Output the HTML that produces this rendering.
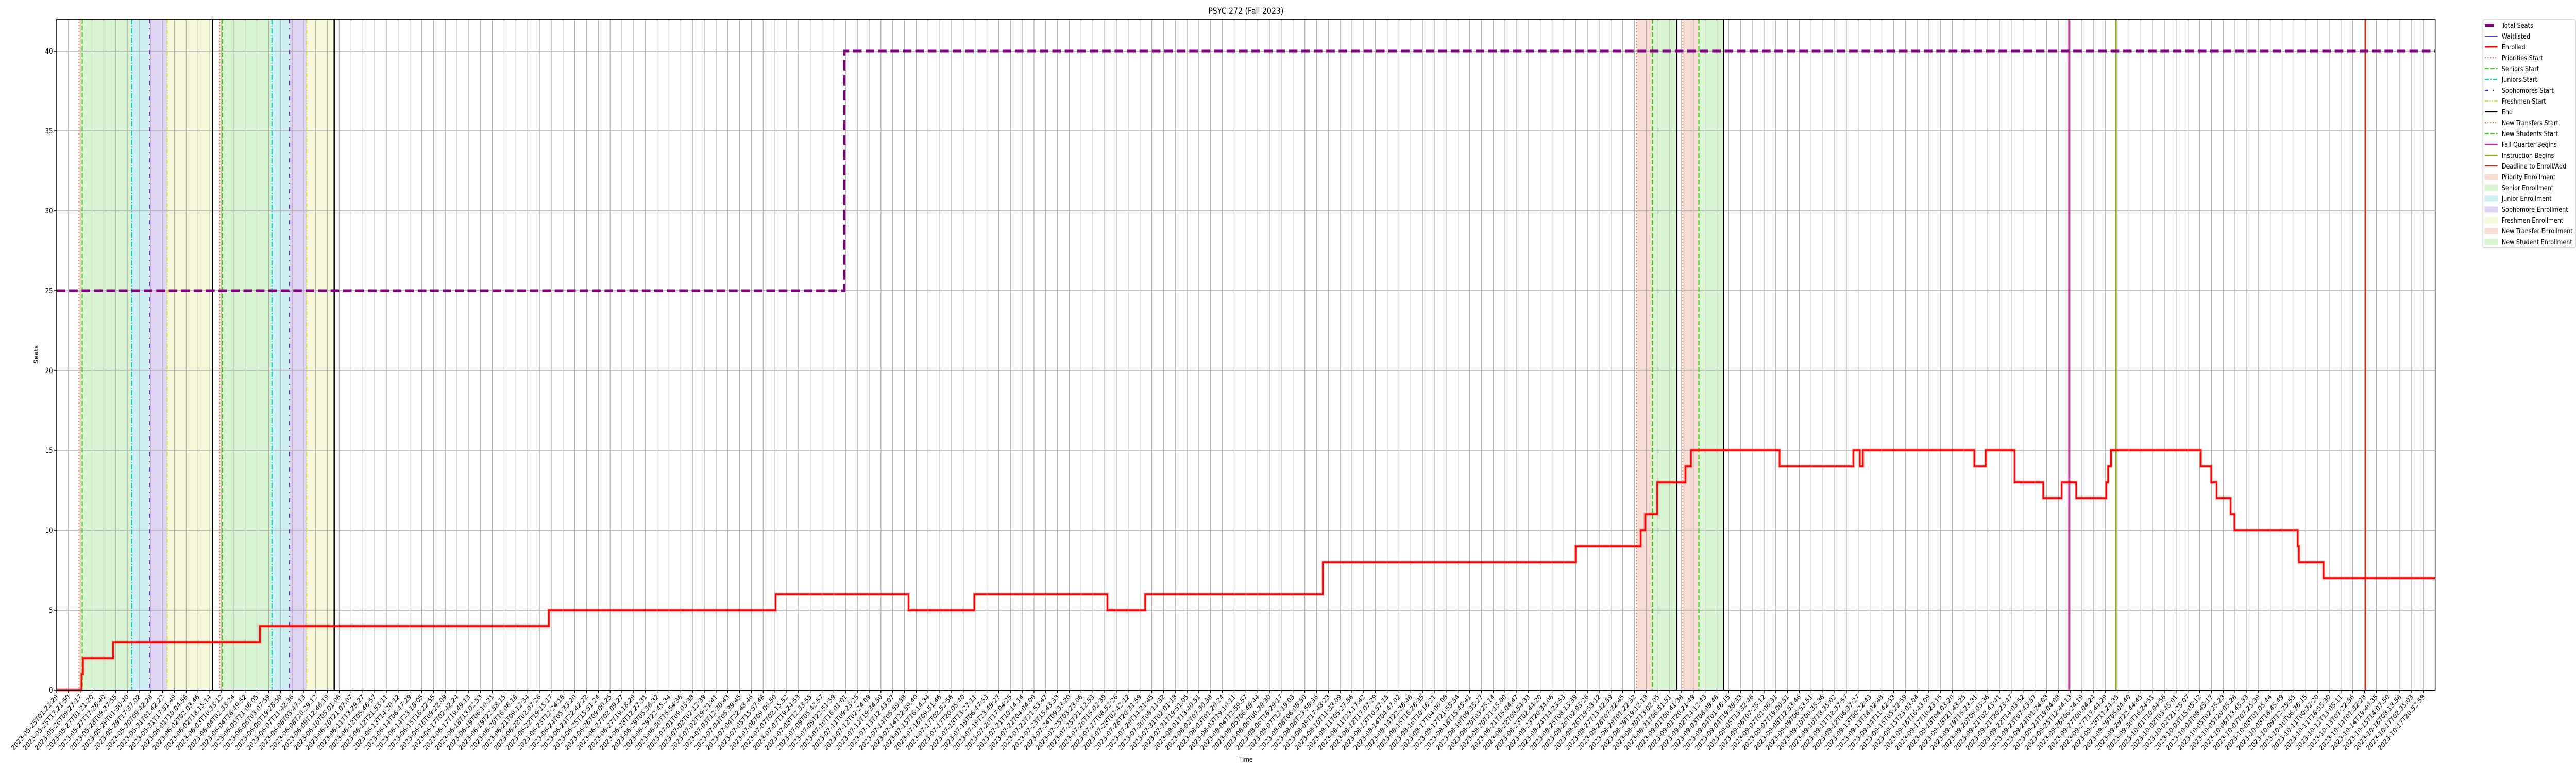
<!DOCTYPE html>
<html><head><meta charset="utf-8">
<style>
html,body{margin:0;padding:0;background:#fff;overflow:hidden;width:100%;height:100%;}
svg{display:block;width:100vw;height:100vh;font-family:"DejaVu Sans","Liberation Sans",sans-serif;}
</style></head>
<body>
<svg id="chart" viewBox="0 0 6000 1500" preserveAspectRatio="none" xmlns="http://www.w3.org/2000/svg">
<rect x="0" y="0" width="6000" height="1500" fill="#fff"/>
<text x="2902" y="27" font-size="17" text-anchor="middle" fill="#000">PSYC 272 (Fall 2023)</text>
<g id="spans"></g><g id="grid"></g><g id="vlines"></g><g id="series"></g><g id="axes"></g>
<text x="0" y="0" font-size="13" text-anchor="middle" transform="translate(88,688) rotate(-90)">Seats</text>
<text x="2902" y="1478" font-size="13" text-anchor="middle">Time</text>
<g id="legend"></g>
</svg>
<script>
// ---- data (x in sample/tick-index units) ----
const enrolledX = [0,2.11,2.24,4.79,17.26,41.80,61.05,72.35,77.93,89.23,92.44,107.53,129.0,134.53,134.90,135.93,138.32,138.80,146.32,152.58,153.14,153.40,162.86,163.83,166.28,168.71,170.28,171.51,174.06,174.22,174.47,182.10,182.98,183.44,184.63,184.95,190.33,190.43,192.52];
const enrolledY = [0,1,2,3,4,5,6,5,6,5,6,8,9,10,11,13,14,15,14,15,14,15,14,15,13,12,13,12,13,14,15,14,13,12,11,10,9,8,7];
const seatsX = [0,66.9];
const seatsY = [25,40];
const waitX = [0];
const waitY = [0];
const spanStarts = [1.90,2.17,6.38,7.89,9.39,13.84,14.08,18.28,19.78,21.23,134.17,135.52,138.10,139.47];
const spanEnds   = [2.17,6.38,7.89,9.39,13.24,14.08,18.28,19.78,21.23,23.57,135.52,137.60,139.47,141.58];
const spanKinds  = ["priority","senior","junior","sophomore","freshman","priority","senior","junior","sophomore","freshman","transfer","newstudent","transfer","newstudent"];
const vlineX     = [1.90,13.84,2.17,14.08,6.38,18.28,7.89,19.78,9.39,21.23,13.24,23.57,137.60,141.58,134.17,138.10,135.52,139.47,170.89,174.90,196.08];
const vlineKinds = ["prio","prio","senior","senior","junior","junior","soph","soph","fresh","fresh","end","end","end","end","transfer","transfer","newstu","newstu","fall","instr","deadline"];
const yTicks = [0,5,10,15,20,25,30,35,40];
const knownTickIdx = [0,1,2,3,4,5,6,7,8,9,10,11,12,13,14,15,16,17,18,19,20,21,22,23,24,25,26,27,28,29,30,31,32,33,34,35,36,37,38,39,40,41,42,67,68,69,70,71,72,73,74,75,76,77,78,79,80,81,82,138,139,140,141,142,143,144,145,146,147,148,149,150,151,152,153,154,190,191,192,193,194,195,196,197,198,199,200,201];
const knownTickLabel = ["2023-05-25T01:22:29","2023-05-25T17:21:50","2023-05-26T09:27:17","2023-05-27T01:21:20","2023-05-27T17:26:40","2023-05-28T09:37:55","2023-05-29T01:30:40","2023-05-29T17:37:02","2023-05-30T09:42:28","2023-05-31T01:42:22","2023-05-31T17:51:49","2023-06-01T10:04:58","2023-06-02T02:03:46","2023-06-02T18:15:14","2023-06-03T10:33:12","2023-06-04T02:33:24","2023-06-04T18:49:52","2023-06-05T11:06:05","2023-06-06T03:07:59","2023-06-06T19:28:50","2023-06-07T11:42:36","2023-06-08T03:47:13","2023-06-08T20:29:12","2023-06-09T12:46:19","2023-06-10T05:01:08","2023-06-10T21:07:07","2023-06-11T13:29:27","2023-06-12T05:46:57","2023-06-12T21:53:11","2023-06-13T14:20:12","2023-06-14T06:47:29","2023-06-14T23:18:05","2023-06-15T16:22:55","2023-06-16T09:22:09","2023-06-17T02:42:24","2023-06-17T19:49:13","2023-06-18T13:02:53","2023-06-19T06:10:21","2023-06-19T22:58:15","2023-06-20T16:06:18","2023-06-21T09:12:34","2023-06-22T02:07:26","2023-06-22T19:15:17","2023-07-10T16:01:01","2023-07-11T09:23:25","2023-07-12T02:24:09","2023-07-12T19:34:50","2023-07-13T12:43:07","2023-07-14T05:59:58","2023-07-14T22:59:40","2023-07-15T16:14:34","2023-07-16T09:51:46","2023-07-17T02:52:56","2023-07-17T20:05:40","2023-07-18T13:27:11","2023-07-19T06:47:53","2023-07-19T23:49:27","2023-07-20T17:04:25","2023-07-21T10:14:14","2023-09-01T00:41:38","2023-09-01T20:21:49","2023-09-02T14:12:43","2023-09-03T08:09:48","2023-09-04T01:46:15","2023-09-04T19:39:33","2023-09-05T13:32:46","2023-09-06T07:25:12","2023-09-07T01:06:31","2023-09-07T19:00:51","2023-09-08T12:53:46","2023-09-09T06:53:51","2023-09-10T00:35:36","2023-09-10T18:35:02","2023-09-11T12:37:57","2023-09-12T06:37:27","2023-09-13T00:22:43","2023-10-09T12:25:55","2023-10-10T06:36:15","2023-10-11T00:32:20","2023-10-11T18:55:30","2023-10-12T13:05:11","2023-10-13T07:22:56","2023-10-14T01:32:28","2023-10-14T19:40:35","2023-10-15T14:07:50","2023-10-16T08:18:58","2023-10-17T02:35:03","2023-10-17T20:52:59"];
const tickCount = 202;

// ---- layout ----
const PL=132, PR=5672, PT=37, PB=1339, XMAX=202, YMAX=42;
const sx = v => PL + v*(PR-PL)/XMAX;
const sy = v => PB - v*(PB-PT)/YMAX;
const NS="http://www.w3.org/2000/svg";
function mk(tag, attrs, parent){const e=document.createElementNS(NS,tag);for(const k in attrs)e.setAttribute(k,attrs[k]);parent.appendChild(e);return e;}

const spanFill={priority:"#f7ddd3",senior:"#d9f4d2",junior:"#cff0f2",sophomore:"#e0d4f5",freshman:"#f6f8d9",transfer:"#f7ddd3",newstudent:"#d9f4d2"};
const lineStyle={
 prio:{c:"#ee6a30",w:2,d:"2,4"}, senior:{c:"#33cc11",w:2.5,d:"9,4"}, junior:{c:"#00c8d0",w:2.5,d:"10,3,2,3"},
 soph:{c:"#6622d9",w:2.5,d:"8,10,2,10"}, fresh:{c:"#e0e030",w:2.5,d:"8,3,2,3,2,3"}, end:{c:"#000",w:3,d:""},
 transfer:{c:"#ee6a30",w:2,d:"2,4"}, newstu:{c:"#33cc11",w:2.5,d:"9,4"}, fall:{c:"#e0189f",w:3,d:""},
 instr:{c:"#88b010",w:3,d:""}, deadline:{c:"#cc3311",w:3,d:""}
};

const gS=document.getElementById('spans'), gG=document.getElementById('grid'), gV=document.getElementById('vlines'), gSe=document.getElementById('series'), gA=document.getElementById('axes');

for(let i=0;i<spanStarts.length;i++){
  const r=mk('rect',{x:sx(spanStarts[i]),y:PT,width:sx(spanEnds[i])-sx(spanStarts[i]),height:PB-PT,fill:spanFill[spanKinds[i]]},gS);
  
  
}
function parseT(s){return Date.parse(s+"Z");}
function fmt(ms){const d=new Date(ms);const p=n=>String(n).padStart(2,'0');return d.getUTCFullYear()+"-"+p(d.getUTCMonth()+1)+"-"+p(d.getUTCDate())+"T"+p(d.getUTCHours())+":"+p(d.getUTCMinutes())+":"+p(d.getUTCSeconds());}
function labelFor(i){
  const k=knownTickIdx.indexOf(i); if(k>=0) return knownTickLabel[k];
  let a=0; for(let j=0;j<knownTickIdx.length;j++){ if(knownTickIdx[j]<i) a=j; }
  const b=a+1, ta=parseT(knownTickLabel[a]), tb=parseT(knownTickLabel[b]);
  return fmt(ta+(tb-ta)*(i-knownTickIdx[a])/(knownTickIdx[b]-knownTickIdx[a]));
}
for(let i=0;i<tickCount;i++){
  const x=sx(i);
  const gl=mk('line',{x1:x,x2:x,y1:PT,y2:PB,stroke:"#b0b0b0","stroke-width":1.5},gG);
  
  
  const tk=mk('line',{x1:x,x2:x,y1:PB,y2:PB+6,stroke:"#000","stroke-width":1.5},gA);
  
  
  const t=mk('text',{x:0,y:0,"font-size":13.5,"text-anchor":"end",transform:`translate(${x+4},${PB+14}) rotate(-45)`,fill:"#000"},gA);
  t.textContent=labelFor(i);
  
  
}
for(const v of yTicks){
  const y=sy(v);
  const gl=mk('line',{x1:PL,x2:PR,y1:y,y2:y,stroke:"#b0b0b0","stroke-width":1.5},gG);
  
  
  const tk=mk('line',{x1:PL-6,x2:PL,y1:y,y2:y,stroke:"#000","stroke-width":1.5},gA);
  
  
  const t=mk('text',{x:PL-9,y:y+5,"font-size":14,"text-anchor":"end"},gA);
  t.textContent=v;
  
  
}
for(let i=0;i<vlineX.length;i++){
  const s=lineStyle[vlineKinds[i]];
  const l=mk('line',{x1:sx(vlineX[i]),x2:sx(vlineX[i]),y1:PT,y2:PB,stroke:s.c,"stroke-width":s.w},gV);
  if(s.d) l.setAttribute('stroke-dasharray',s.d);
  
  
}
function stepPath(xs,ys){
  let d=`M${sx(xs[0])},${sy(ys[0])}`;
  for(let i=1;i<xs.length;i++){ d+=` H${sx(xs[i])} V${sy(ys[i])}`; }
  d+=` H${sx(XMAX)}`; return d;
}
const wl=mk('path',{d:stepPath(waitX,waitY),fill:"none",stroke:"#0000ff","stroke-width":2},gSe);


const eh=mk('path',{d:stepPath(enrolledX,enrolledY),fill:"none",stroke:"rgba(255,0,0,0.22)","stroke-width":7},gSe);


const el=mk('path',{d:stepPath(enrolledX,enrolledY),fill:"none",stroke:"#ff0000","stroke-width":3.5},gSe);


const sl=mk('path',{d:stepPath(seatsX,seatsY),fill:"none",stroke:"#800080","stroke-width":5,"stroke-dasharray":"20,9"},gSe);


const fr=mk('rect',{x:PL,y:PT,width:PR-PL,height:PB-PT,fill:"none",stroke:"#000","stroke-width":1.8},gA);



// legend
const legLabels=["Total Seats","Waitlisted","Enrolled","Priorities Start","Seniors Start","Juniors Start","Sophomores Start","Freshmen Start","End","New Transfers Start","New Students Start","Fall Quarter Begins","Instruction Begins","Deadline to Enroll/Add","Priority Enrollment","Senior Enrollment","Junior Enrollment","Sophomore Enrollment","Freshmen Enrollment","New Transfer Enrollment","New Student Enrollment"];
const legKind=["seats","wait","enr","prio","senior","junior","soph","fresh","end","transfer","newstu","fall","instr","deadline","priority","senior","junior","sophomore","freshman","transfer","newstudent"];
const gL=document.getElementById('legend');
const lb=mk('rect',{x:5783,y:38,width:216,height:443,rx:3,fill:"#fff",stroke:"#d0d0d0","stroke-width":1.5},gL);


for(let i=0;i<legLabels.length;i++){
  const y=49+i*21.0;
  const g=mk('g',{},gL);
  
  
  if(i<14){
    let c,w,d="";
    if(i===0){c="#800080";w=6;}
    else if(i===1){c="#0000ff";w=1.5;}
    else if(i===2){c="#ff0000";w=3;}
    else {const s=lineStyle[legKind[i]];c=s.c;w=2.2;d=s.d;}
    const l=mk('line',{x1:5788,x2:i===0?5808:5817,y1:y,y2:y,stroke:c,"stroke-width":w},g);
    if(d) l.setAttribute('stroke-dasharray',d);
  } else {
    mk('rect',{x:5788,y:y-5,width:29,height:11,fill:spanFill[legKind[i]],stroke:spanFill[legKind[i]]},g);
  }
  const t=mk('text',{x:5827,y:y+5,"font-size":13.5,fill:"#000"},g);
  t.textContent=legLabels[i];
}
</script>
</body></html>
